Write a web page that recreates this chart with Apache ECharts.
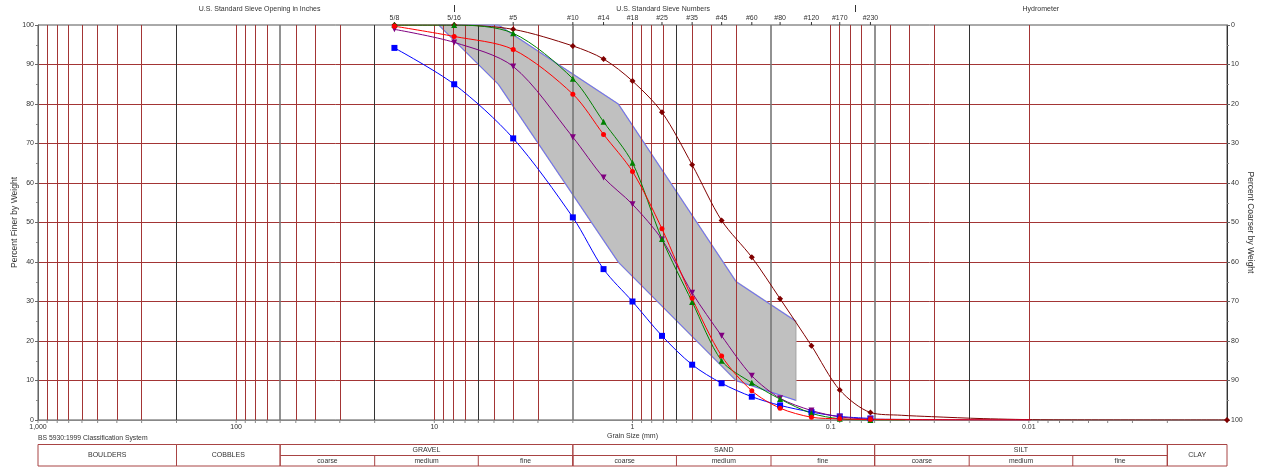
<!DOCTYPE html>
<html><head><meta charset="utf-8">
<script src="https://cdn.jsdelivr.net/npm/echarts@6/dist/echarts.min.js"></script>
<style>html,body{margin:0;padding:0;background:#fff}#c{width:1263px;height:468px}</style>
</head><body><div id="c"></div>
<script>
// ---- data ----
const sieveLabels = ['5/8','5/16','#5','#10','#14','#18','#25','#35','#45','#60','#80','#120','#170','#230'];
const sieveSizes  = [15.9, 7.94, 4.0, 2.0, 1.4, 1.0, 0.71, 0.5, 0.355, 0.25, 0.18, 0.125, 0.09, 0.063];
const blueFiner    = [94.2, 85.0, 71.3, 51.3, 38.2, 30.0, 21.3, 14.0, 9.3, 5.9, 3.7, 2.0, 0.9, 0.4];
const redFiner     = [99.7, 97.1, 93.8, 82.5, 72.3, 62.9, 48.4, 30.8, 16.2, 7.4, 3.0, 0.7, 0.3, 0.1];
const greenFiner   = [100, 100, 97.9, 86.4, 75.5, 65.1, 45.8, 29.9, 15.0, 9.4, 5.3, 1.7, 0.3, 0.0];
const purpleFiner  = [98.9, 95.6, 89.5, 71.6, 61.4, 54.6, 45.7, 32.2, 21.3, 11.2, 5.5, 2.4, 0.8, 0.25];
const darkredFiner = [100, 100, 98.9, 94.7, 91.4, 85.8, 77.9, 64.6, 50.5, 41.2, 30.7, 18.8, 7.6, 1.9];
// hydrometer tails (size mm, percent finer)
const greenTailSizes = [0.042];          const greenTailVals = [0];
const redTailSizes = [0.0098];           const redTailVals = [0];
const purpleTailSizes = [0.0098];        const purpleTailVals = [0];
const darkredTailSizes = [0.044, 0.031, 0.017, 0.008]; const darkredTailVals = [1.2, 0.85, 0.35, 0.05];
const darkredEndSize = 0.001;            const darkredEndVal = 0;
// specification envelope
const envSizes = [9.5, 4.75, 1.18, 0.3, 0.15];
const envUpper = [100, 100, 80, 35, 25];
const envLower = [100, 85, 40, 10, 5];
// axis labels
const xTickValues = [1000, 100, 10, 1, 0.1, 0.01];
const xTickLabels = ['1,000', '100', '10', '1', '0.1', '0.01'];
const classBounds = [200, 60, 20, 6, 2, 0.6, 0.2, 0.06, 0.02, 0.006, 0.002];
const majorBounds = [60, 2, 0.2, 0.06];
const mainClassNames = ['BOULDERS', 'COBBLES', 'GRAVEL', 'SAND', 'SILT', 'CLAY'];
const mainClassFrom  = [1000, 200, 60, 2, 0.06, 0.002];
const mainClassTo    = [200, 60, 2, 0.06, 0.002, 0.001];
const subClassNames = ['coarse', 'medium', 'fine', 'coarse', 'medium', 'fine', 'coarse', 'medium', 'fine'];
const subClassFrom  = [60, 20, 6, 2, 0.6, 0.2, 0.06, 0.02, 0.006];
const subClassTo    = [20, 6, 2, 0.6, 0.2, 0.06, 0.02, 0.006, 0.002];
const topSectionTitles = ['U.S. Standard Sieve Opening in Inches', 'U.S. Standard Sieve Numbers', 'Hydrometer'];
const topSectionCenters = [76.2, 0.7, 0.0087];
const topSeparators = [7.94, 0.075];

(function () {
// ---- chart ----
const FONT = "'Liberation Sans', Arial, sans-serif";
const RED = '#a33535';
const chart = echarts.init(document.getElementById('c'));
const r6 = v => Number(v.toPrecision(6));
const gridValues = [];
for (let k = -3; k <= 2; k++) for (let m = 1; m <= 9; m++) gridValues.push(r6(m * Math.pow(10, k)));
gridValues.push(1000);
const near = (a, b) => Math.abs(a - b) / b < 1e-6;
const vLines = gridValues.filter(v => v > 0.001 && v < 1000).map(v => {
  const isClass = classBounds.some(b => near(v, b));
  const isMajor = majorBounds.some(b => near(v, b));
  return { xAxis: v, lineStyle: { color: isClass ? (isMajor ? '#777' : '#333') : RED, width: isMajor ? 1.6 : 1, type: 'solid', opacity: 1 } };
});

function pairs(xs, ys) { return xs.map((x, i) => [x, ys[i]]); }
function withTail(main, tx, ty) {
  return pairs(sieveSizes, main).concat(tx.map((x, i) => ({ value: [x, ty[i]], symbol: 'none' })));
}
function lineSeries(name, color, symbol, size, data, rot) {
  return { name, type: 'line', data, smooth: 0.3, z: 5, color,
    symbol, symbolSize: size, symbolRotate: rot || 0, showAllSymbol: true,
    lineStyle: { color, width: 1 }, itemStyle: { color, borderWidth: 0 } };
}

const darkData = withTail(darkredFiner, darkredTailSizes, darkredTailVals).concat([[darkredEndSize, darkredEndVal]]);

chart.setOption({
  animation: false,
  textStyle: { fontFamily: FONT },
  grid: { left: 38, right: 36, top: 25, bottom: 48, containLabel: false, outerBoundsMode: 'none',
    show: true, borderColor: '#555', borderWidth: 1 },
  xAxis: { type: 'log', logBase: 10, min: 0.001, max: 1000, inverse: true, splitNumber: 6,
    axisLine: { show: true, lineStyle: { color: '#888' } }, axisTick: { show: false },
    splitLine: { show: false },
    axisLabel: { fontSize: 7, color: '#333', margin: 4, showMaxLabel: true, showMinLabel: true, hideOverlap: false,
      formatter: v => { const i = xTickValues.findIndex(t => near(v, t)); return i >= 0 ? xTickLabels[i] : ''; } },
    name: 'Grain Size (mm)', nameLocation: 'middle', nameGap: 13, nameMoveOverlap: false,
    nameTextStyle: { fontSize: 7, color: '#333' } },
  yAxis: [
    { type: 'value', min: 0, max: 100, interval: 10, position: 'left',
      axisLine: { show: true, lineStyle: { color: '#666' } },
      axisTick: { show: true, length: 3, lineStyle: { color: '#666' } },
      minorTick: { show: true, splitNumber: 2, length: 2, lineStyle: { color: '#888' } },
      splitLine: { show: true, showMinLine: false, showMaxLine: false, lineStyle: { color: RED, width: 1 } },
      axisLabel: { fontSize: 7, color: '#333', margin: 4 },
      name: 'Percent Finer by Weight', nameLocation: 'middle', nameGap: 19, nameMoveOverlap: false,
      nameTextStyle: { fontSize: 8.5, color: '#333' } },
    { type: 'value', min: 0, max: 100, interval: 10, position: 'right', inverse: true,
      axisLine: { show: true, lineStyle: { color: '#333' } },
      axisTick: { show: true, length: 3, lineStyle: { color: '#666' } },
      minorTick: { show: true, splitNumber: 2, length: 2, lineStyle: { color: '#888' } },
      splitLine: { show: false },
      axisLabel: { fontSize: 7, color: '#333', margin: 4 },
      name: 'Percent Coarser by Weight', nameLocation: 'middle', nameGap: 19, nameRotate: -90, nameMoveOverlap: false,
      nameTextStyle: { fontSize: 8.5, color: '#333' } }
  ],
  series: [
    { name: 'gridlines', type: 'line', data: [], z: 1,
      markLine: { silent: true, symbol: ['none', 'none'], label: { show: false }, animation: false, data: vLines } },
    { name: 'envelope', type: 'custom', z: 2, data: [[1, 50]],
      renderItem: (params, api) => {
        const up = envSizes.map((s, i) => api.coord([s, envUpper[i]]));
        const lo = envSizes.map((s, i) => api.coord([s, envLower[i]])).reverse();
        return { type: 'polygon', shape: { points: up.concat(lo) }, style: { fill: '#c0c0c0', stroke: '#b0b0b0', lineWidth: 1.5 } };
      } },
    { name: 'envUpper', type: 'line', z: 3, data: pairs(envSizes, envUpper), symbol: 'none',
      lineStyle: { color: '#6a6aff', width: 1 } },
    { name: 'envLower', type: 'line', z: 3, data: pairs(envSizes, envLower), symbol: 'none',
      lineStyle: { color: '#6a6aff', width: 1 } },
    lineSeries('blue', '#0000ff', 'rect', 6, pairs(sieveSizes, blueFiner)),
    lineSeries('darkred', '#800000', 'diamond', 6, darkData),
    lineSeries('purple', '#800080', 'triangle', 6, withTail(purpleFiner, purpleTailSizes, purpleTailVals), 180),
    lineSeries('green', '#008000', 'triangle', 6, withTail(greenFiner, greenTailSizes, greenTailVals)),
    lineSeries('red', '#ff0000', 'circle', 5, withTail(redFiner, redTailSizes, redTailVals))
  ]
});

// ---- decorations positioned through the axes ----
function px(x, y) { return chart.convertToPixel({ xAxisIndex: 0, yAxisIndex: 0 }, [x, y]); }
const topY = px(1, 100)[1], bottomY = px(1, 0)[1];
const g = [];
const txt = (x, y, text, size, align) => ({ type: 'text', x, y, silent: true,
  style: { text, fill: '#333', font: size + 'px ' + FONT, align: align || 'center', verticalAlign: 'middle' } });
const ln = (x1, y1, x2, y2, color, w) => ({ type: 'line', silent: true, shape: { x1, y1, x2, y2 }, style: { stroke: color, lineWidth: w || 1 } });
sieveSizes.forEach((s, i) => {
  const x = px(s, 100)[0];
  g.push(txt(x, topY - 6.5, sieveLabels[i], 7));
  g.push(ln(x, topY - 3, x, topY, '#333'));
});
topSectionTitles.forEach((t, i) => g.push(txt(px(topSectionCenters[i], 100)[0], topY - 16, t, 7)));
topSeparators.forEach(s => { const x = Math.round(px(s, 100)[0]) + 0.5; g.push(ln(x, topY - 20, x, topY - 13, '#333')); });
gridValues.forEach(v => { const x = px(v, 0)[0]; g.push(ln(x, bottomY, x, bottomY + 3, '#888')); });
g.push(txt(px(1000, 0)[0], bottomY + 18, 'BS 5930:1999 Classification System', 6.8, 'left'));
const y0 = bottomY + 24.5, y1 = bottomY + 35.5, y2 = bottomY + 46;
const BORDER = '#a84444';
mainClassNames.forEach((n, i) => {
  const xa = px(mainClassFrom[i], 0)[0], xb = px(mainClassTo[i], 0)[0];
  const hasSub = subClassFrom.some(f => near(f, mainClassFrom[i]));
  g.push({ type: 'rect', silent: true, shape: { x: xa, y: y0, width: xb - xa, height: y2 - y0 }, style: { fill: 'none', stroke: BORDER, lineWidth: 1 } });
  if (hasSub) {
    g.push(ln(xa, y1, xb, y1, BORDER));
    g.push(txt((xa + xb) / 2, (y0 + y1) / 2, n, 7));
  } else {
    g.push(txt((xa + xb) / 2, (y0 + y2) / 2, n, 7));
  }
});
subClassNames.forEach((n, i) => {
  const xa = px(subClassFrom[i], 0)[0], xb = px(subClassTo[i], 0)[0];
  g.push(ln(xb, y1, xb, y2, BORDER));
  g.push(txt((xa + xb) / 2, (y1 + y2) / 2, n, 6.8));
});
chart.setOption({ graphic: g });
})();
</script>
</body></html>
